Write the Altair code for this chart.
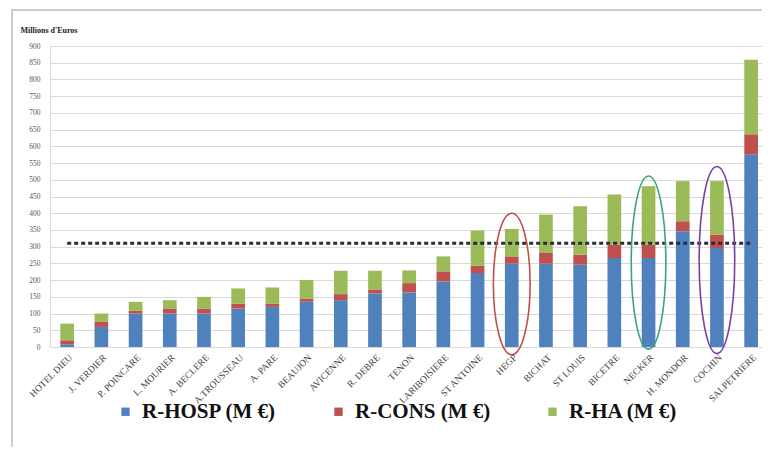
import altair as alt
import pandas as pd

categories = ["HOTEL DIEU", "J. VERDIER", "P. POINCARE", "L. MOURIER", "A. BECLERE",
              "A.TROUSSEAU", "A. PARE", "BEAUJON", "AVICENNE", "R. DEBRE", "TENON",
              "LARIBOISIERE", "ST ANTOINE", "HEGP", "BICHAT", "ST LOUIS", "BICETRE",
              "NECKER", "H. MONDOR", "COCHIN", "SALPETRIERE"]
r_hosp = [8, 60, 100, 100, 100, 115, 120, 135, 140, 160, 163, 196, 221, 249, 249, 246, 266, 266, 346, 296, 576]
r_cons = [12, 15, 8, 15, 15, 15, 10, 10, 18, 12, 28, 30, 22, 22, 32, 30, 40, 40, 30, 40, 60]
r_ha = [50, 25, 27, 25, 35, 45, 48, 55, 70, 56, 38, 45, 105, 82, 115, 145, 150, 175, 120, 160, 223]
series = ["R-HOSP (M €)", "R-CONS (M €)", "R-HA (M €)"]
colors = ["#4F81BD", "#C0504D", "#9BBB59"]
threshold = 310
circled = {"HEGP": "#C0504D", "NECKER": "#3AA676", "COCHIN": "#7B3FA0"}
y_ticks = list(range(0, 901, 50))

rows = []
for i, c in enumerate(categories):
    for k, (s, vals) in enumerate(zip(series, [r_hosp, r_cons, r_ha])):
        rows.append({"cat": c, "serie": s, "value": vals[i], "order": k})
df = pd.DataFrame(rows)
tot = pd.DataFrame({"cat": categories,
                    "total": [a + b + c for a, b, c in zip(r_hosp, r_cons, r_ha)],
                    "thr": [threshold] * len(categories)})

W, H = 712, 301
xscale = alt.Scale(domain=categories, paddingInner=0.6, paddingOuter=0.21, align=0.72)
yscale = alt.Scale(domain=[0, 900], nice=False)

xaxis = alt.Axis(labelAngle=-45, labelAlign="right", labelBaseline="top",
                 labelFont="Liberation Serif", labelFontSize=9.5, labelColor="#404040",
                 ticks=False, domain=False, labelPadding=5, labelOverlap=False, grid=False)
yaxis = alt.Axis(values=y_ticks, title="Millions d'Euros", titleAngle=0,
                 titleAlign="left", titleBaseline="bottom", titleX=-30, titleY=-12,
                 titleFont="Liberation Serif", titleFontSize=8, titleFontWeight="bold",
                 titleColor="#222", labelFont="Liberation Serif", labelFontSize=7.5,
                 labelColor="#555", ticks=False, domain=False, labelPadding=10,
                 labelOverlap=False, labelFlush=False,
                 grid=True, gridColor="#d9d9d9", gridWidth=1)


def X():
    return alt.X("cat:N", sort=categories, title=None, scale=xscale, axis=xaxis)


def Y(field, **kw):
    return alt.Y(field, scale=yscale, axis=yaxis, title="Millions d'Euros", **kw)


bars = alt.Chart(df).mark_bar().encode(
    x=X(),
    y=Y("value:Q", stack="zero"),
    color=alt.Color("serie:N", sort=series, scale=alt.Scale(domain=series, range=colors),
                    legend=alt.Legend(title=None, orient="none", legendX=65, legendY=355,
                                      direction="horizontal", symbolType="square",
                                      symbolSize=70, symbolStrokeWidth=0,
                                      labelFont="Liberation Serif", labelFontSize=21,
                                      labelFontWeight="bold", labelColor="#111",
                                      columnPadding=51, labelOffset=6, labelLimit=300)),
    order=alt.Order("order:Q"),
)

line = alt.Chart(tot).mark_line(color="#2b2b3b", strokeWidth=3, strokeDash=[4, 3]).encode(
    x=X(), y=Y("thr:Q"))

ell_layers = []
ell_shapes = {"HEGP": (0.26, 20000), "NECKER": (0.2, 30000), "COCHIN": (0.19, 35000)}
for name, col in circled.items():
    a, sz = ell_shapes[name]
    path = f"M {-a} 0 A {a} 1 0 1 0 {a} 0 A {a} 1 0 1 0 {-a} 0 Z"
    ell_layers.append(
        alt.Chart(tot).transform_filter(alt.datum.cat == name)
        .transform_calculate(mid="datum.total / 2")
        .mark_point(shape=path, size=sz, filled=False, stroke=col, strokeWidth=1.6,
                    opacity=1, yOffset=-4)
        .encode(x=X(), y=Y("mid:Q")))

border = alt.Chart(pd.DataFrame({"a": [0]})).mark_rect(
    fill=None, stroke="#bdbdbd", strokeWidth=1.5).encode(
    x=alt.value(-38), x2=alt.value(W + 30), y=alt.value(-36), y2=alt.value(H + 120))

chart = alt.layer(bars, line, *ell_layers, border).properties(
    width=W, height=H, autosize=alt.AutoSizeParams(type="none"),
    padding={"left": 42, "top": 38, "right": 0, "bottom": 100}
).configure_view(stroke=None).configure(background="white")

chart.save("out.html", embed_options={"renderer": "svg", "actions": False})
